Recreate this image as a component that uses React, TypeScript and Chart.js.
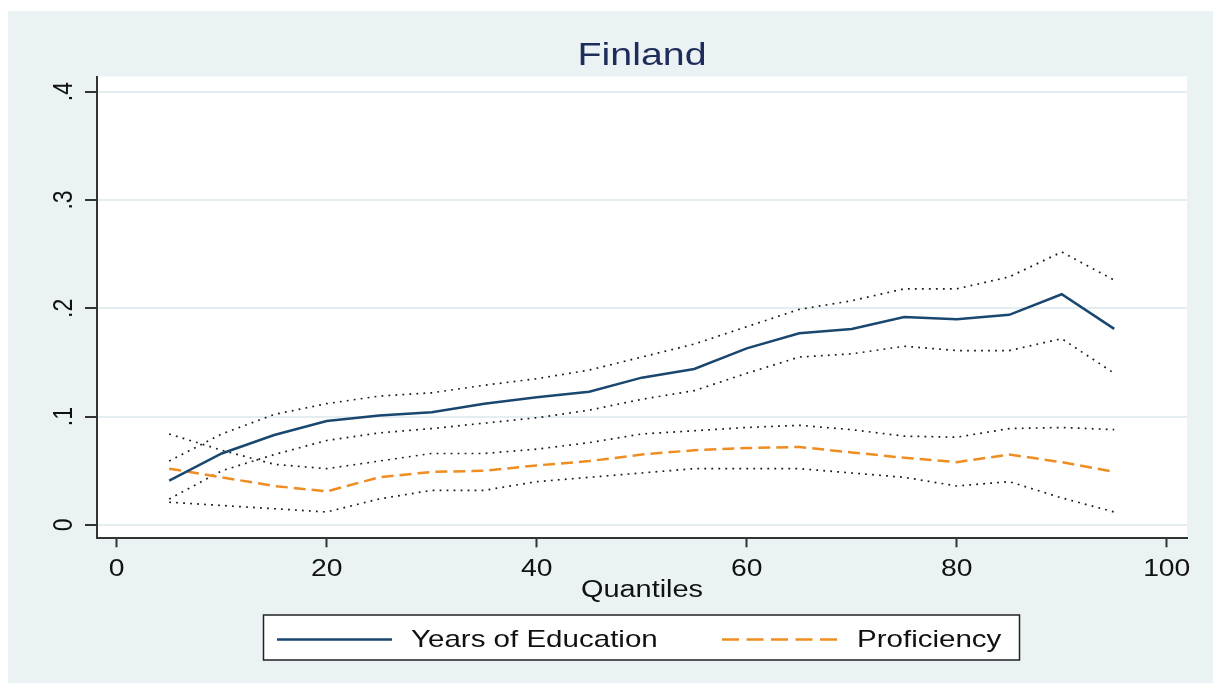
import { useEffect, useRef } from "react";
import { Chart, registerables } from "chart.js";

Chart.register(...registerables);

const TITLE = "Finland";
const X_TITLE = "Quantiles";
const QUANTILES = [5, 10, 15, 20, 25, 30, 35, 40, 45, 50, 55, 60, 65, 70, 75, 80, 85, 90, 95];
const EDU = [0.041, 0.066, 0.083, 0.096, 0.101, 0.104, 0.112, 0.118, 0.123, 0.136, 0.144, 0.163, 0.177, 0.181, 0.192, 0.190, 0.194, 0.213, 0.181];
const EDU_UPPER = [0.059, 0.084, 0.102, 0.112, 0.119, 0.122, 0.129, 0.135, 0.143, 0.155, 0.167, 0.183, 0.199, 0.207, 0.218, 0.218, 0.229, 0.252, 0.226];
const EDU_LOWER = [0.024, 0.050, 0.065, 0.078, 0.085, 0.089, 0.094, 0.099, 0.106, 0.116, 0.124, 0.140, 0.155, 0.158, 0.165, 0.161, 0.161, 0.172, 0.140];
const PROF = [0.052, 0.044, 0.036, 0.031, 0.044, 0.049, 0.050, 0.055, 0.059, 0.065, 0.069, 0.071, 0.072, 0.067, 0.062, 0.058, 0.065, 0.058, 0.049];
const PROF_UPPER = [0.084, 0.069, 0.056, 0.052, 0.059, 0.066, 0.066, 0.070, 0.076, 0.084, 0.087, 0.090, 0.092, 0.088, 0.082, 0.081, 0.089, 0.090, 0.088];
const PROF_LOWER = [0.021, 0.018, 0.015, 0.012, 0.024, 0.032, 0.032, 0.040, 0.044, 0.048, 0.052, 0.052, 0.052, 0.048, 0.044, 0.036, 0.040, 0.025, 0.012];
const X_TICKS = [0, 20, 40, 60, 80, 100];
const X_TICK_LABELS = ["0", "20", "40", "60", "80", "100"];
const Y_TICKS = [0, 0.1, 0.2, 0.3, 0.4];
const Y_TICK_LABELS = ["0", ".1", ".2", ".3", ".4"];
const LEGEND_LABELS = ["Years of Education", "Proficiency"];

const BG = "#eaf2f3";
const NAVY = "#1a476f";
const ORANGE = "#ee8d22";
const DOT = "#1a1a1a";
const FONT = '"Liberation Sans", Arial, sans-serif';
const SX = 1.23;

const toPts = (vals: number[]) => QUANTILES.map((q, i) => ({ x: q, y: vals[i] }));

function txt(ctx: CanvasRenderingContext2D, s: string, x: number, y: number, size: number, color: string, align: CanvasTextAlign, rotate = false) {
  ctx.save();
  ctx.translate(x, y);
  if (rotate) {
    ctx.rotate(-Math.PI / 2);
    ctx.scale(1, SX);
  } else {
    ctx.scale(SX, 1);
  }
  ctx.font = `${size}px ${FONT}`;
  ctx.fillStyle = color;
  ctx.textAlign = align;
  ctx.textBaseline = "alphabetic";
  ctx.fillText(s, 0, 0);
  ctx.restore();
}

const stataPlugin = {
  id: "stata",
  beforeDraw(chart: any) {
    const { ctx, chartArea: a } = chart;
    ctx.save();
    ctx.fillStyle = "#ffffff";
    ctx.fillRect(a.left, a.top, a.right - a.left, a.bottom - a.top);
    ctx.restore();
  },
  afterDraw(chart: any) {
    const { ctx, chartArea: a } = chart;
    const xs = chart.scales.x;
    const ys = chart.scales.y;
    txt(ctx, TITLE, (a.left + a.right) / 2, 54, 32, "#1e2c5b", "center");
    X_TICKS.forEach((v, i) => txt(ctx, X_TICK_LABELS[i], xs.getPixelForValue(v), 565, 23, "#111", "center"));
    txt(ctx, X_TITLE, (a.left + a.right) / 2, 586, 23.5, "#111", "center");
    Y_TICKS.forEach((v, i) => txt(ctx, Y_TICK_LABELS[i], 64, ys.getPixelForValue(v), 23, "#111", "center", true));
    ctx.save();
    ctx.fillStyle = "#ffffff";
    ctx.fillRect(255.5, 604, 756, 45);
    ctx.strokeStyle = "#222";
    ctx.lineWidth = 1.5;
    ctx.strokeRect(255.5, 604, 756, 45);
    ctx.lineWidth = 2.5;
    ctx.strokeStyle = NAVY;
    ctx.beginPath();
    ctx.moveTo(269, 628.5);
    ctx.lineTo(384, 628.5);
    ctx.stroke();
    ctx.strokeStyle = ORANGE;
    ctx.setLineDash([17, 7.5]);
    ctx.beginPath();
    ctx.moveTo(714, 628.5);
    ctx.lineTo(832, 628.5);
    ctx.stroke();
    ctx.restore();
    txt(ctx, LEGEND_LABELS[0], 403, 636, 24, "#111", "left");
    txt(ctx, LEGEND_LABELS[1], 849, 636, 24, "#111", "left");
  },
};

export default function App() {
  const ref = useRef<HTMLCanvasElement>(null);
  useEffect(() => {
    const ciStyle = {
      borderColor: DOT,
      borderWidth: 1.7,
      borderDash: [1.8, 5.2],
      pointRadius: 0,
      fill: false,
      tension: 0,
    };
    const chart = new Chart(ref.current!, {
      type: "line",
      data: {
        datasets: [
          { label: LEGEND_LABELS[0], data: toPts(EDU), borderColor: NAVY, borderWidth: 2.5, pointRadius: 0, tension: 0, fill: false },
          { label: LEGEND_LABELS[1], data: toPts(PROF), borderColor: ORANGE, borderWidth: 2.5, borderDash: [12, 6], pointRadius: 0, tension: 0, fill: false },
          { label: "edu_upper", data: toPts(EDU_UPPER), ...ciStyle },
          { label: "edu_lower", data: toPts(EDU_LOWER), ...ciStyle },
          { label: "prof_upper", data: toPts(PROF_UPPER), ...ciStyle },
          { label: "prof_lower", data: toPts(PROF_LOWER), ...ciStyle },
        ],
      },
      options: {
        animation: false,
        responsive: true,
        maintainAspectRatio: false,
        devicePixelRatio: 1,
        layout: { padding: { top: 65.5, right: 26, left: 0, bottom: 0 } },
        plugins: { legend: { display: false }, title: { display: false }, tooltip: { enabled: false } },
        scales: {
          x: {
            type: "linear",
            min: -1.876,
            max: 101.93,
            afterBuildTicks: (s: any) => { s.ticks = X_TICKS.map((v) => ({ value: v })); },
            afterFit: (s: any) => { s.height = 144.7; },
            ticks: { display: false },
            grid: { display: true, drawOnChartArea: false, drawTicks: true, tickLength: 9, tickColor: "#333", tickWidth: 2 },
            border: { display: true, color: "#333", width: 2 },
          },
          y: {
            type: "linear",
            min: -0.0123,
            max: 0.414,
            afterBuildTicks: (s: any) => { s.ticks = Y_TICKS.map((v) => ({ value: v })); },
            afterFit: (s: any) => { s.width = 89; },
            ticks: { display: false },
            grid: { display: true, color: "#e4edf0", lineWidth: 2, drawTicks: true, tickLength: 12, tickColor: "#333", tickWidth: 2 },
            border: { display: true, color: "#333", width: 2 },
          },
        },
      },
      plugins: [stataPlugin],
    } as any);
    return () => chart.destroy();
  }, []);
  return (
    <div style={{ position: "absolute", left: 8, top: 11, width: 1205, height: 672, background: BG }}>
      <canvas ref={ref} />
    </div>
  );
}
